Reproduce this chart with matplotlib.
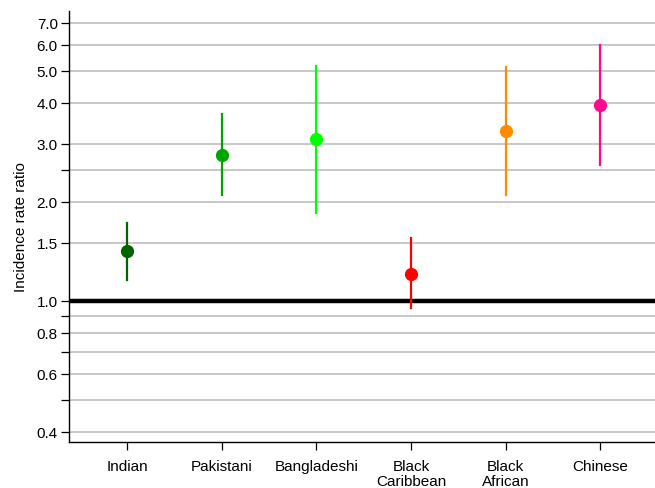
import matplotlib
matplotlib.use("Agg")
import matplotlib.pyplot as plt
import numpy as np

plt.rcParams['font.family'] = ['Liberation Sans', 'DejaVu Sans']

groups = ['Indian', 'Pakistani', 'Bangladeshi', 'Black\nCaribbean', 'Black\nAfrican', 'Chinese']
irr = [1.415, 2.78, 3.10, 1.21, 3.29, 3.94]
lower = [1.16, 2.09, 1.85, 0.95, 2.10, 2.59]
upper = [1.725, 3.70, 5.17, 1.55, 5.13, 6.01]
colours = ['#006400', '#00A500', '#00FF00', '#FF0000', '#FF8C00', '#FF0A8C']

grid_vals = [0.4, 0.5, 0.6, 0.7, 0.8, 0.9, 1.5, 2.0, 2.5, 3.0, 4.0, 5.0, 6.0, 7.0]
tick_vals = [0.4, 0.5, 0.6, 0.7, 0.8, 0.9, 1.0, 1.5, 2.0, 2.5, 3.0, 4.0, 5.0, 6.0, 7.0]
tick_labels = ['0.4', '', '0.6', '', '0.8', '', '1.0', '1.5', '2.0', '', '3.0', '4.0', '5.0', '6.0', '7.0']

fig = plt.figure(figsize=(6.55, 4.89), dpi=100)
ax = fig.add_axes([0.1053, 0.094, 0.8947, 0.8815])

x = np.arange(1, len(groups) + 1)

for g in grid_vals:
    ax.axhline(g, color='#C8C8C8', lw=1.4, zorder=1)
ax.axhline(1.0, color='black', lw=3.2, zorder=2)

for i in range(len(groups)):
    ax.plot([x[i], x[i]], [lower[i], upper[i]], color=colours[i], lw=1.6, zorder=3)
    ax.plot(x[i], irr[i], 'o', color=colours[i], ms=8.5, zorder=4)

ax.set_yscale('log')
ax.set_ylim(0.372, 7.6)
ax.set_xlim(0.384, 6.58)
ax.minorticks_off()
ax.set_yticks(tick_vals)
ax.set_yticklabels(tick_labels)
ax.set_xticks(x)
ax.set_xticklabels(groups, linespacing=1.1)

ax.spines['top'].set_visible(False)
ax.spines['right'].set_visible(False)
ax.spines['left'].set_linewidth(1.0)
ax.spines['bottom'].set_linewidth(1.0)
ax.tick_params(axis='both', labelsize=11, length=6, width=0.9, colors='black')
ax.tick_params(axis='x', pad=6)
ax.tick_params(axis='y', pad=2)
ax.set_ylabel('Incidence rate ratio', fontsize=11, labelpad=6)

fig.savefig('out.png', dpi=100)
